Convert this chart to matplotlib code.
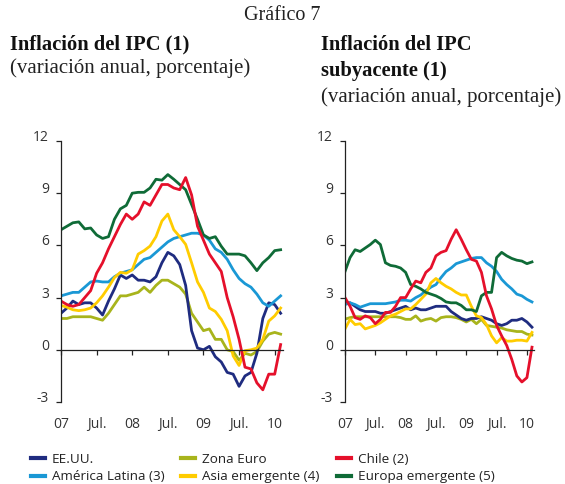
import matplotlib
matplotlib.use("Agg")
import matplotlib.pyplot as plt
import numpy as np

# ---------------- data (monthly, Jan 2007 - Feb 2010) ----------------
tick_labels = ["07", "Jul.", "08", "Jul.", "09", "Jul.", "10"]
series_names = ["EE.UU.", "América Latina (3)", "Zona Euro",
                "Asia emergente (4)", "Chile (2)", "Europa emergente (5)"]

# Headline CPI inflation
ipc_eeuu = [2.1, 2.4, 2.8, 2.6, 2.7, 2.7, 2.4, 2.0, 2.8, 3.5, 4.3, 4.1,
            4.3, 4.0, 4.0, 3.9, 4.2, 5.0, 5.6, 5.4, 4.9, 3.7, 1.1, 0.1,
            0.0, 0.2, -0.4, -0.7, -1.3, -1.4, -2.1, -1.5, -1.3, -0.2, 1.8, 2.7,
            2.6, 2.1]
ipc_zona_euro = [1.8, 1.8, 1.9, 1.9, 1.9, 1.9, 1.8, 1.7, 2.1, 2.6, 3.1, 3.1,
                 3.2, 3.3, 3.6, 3.3, 3.7, 4.0, 4.0, 3.8, 3.6, 3.2, 2.1, 1.6,
                 1.1, 1.2, 0.6, 0.6, 0.0, -0.1, -0.6, -0.2, -0.3, -0.1, 0.5, 0.9,
                 1.0, 0.9]
ipc_chile = [2.8, 2.6, 2.5, 2.6, 3.0, 3.4, 4.4, 5.0, 5.8, 6.5, 7.2, 7.8,
             7.5, 7.8, 8.5, 8.3, 8.9, 9.5, 9.5, 9.3, 9.2, 9.9, 8.9, 7.1,
             6.3, 5.5, 5.0, 4.5, 3.0, 1.9, 0.6, -1.0, -1.1, -1.9, -2.3, -1.4,
             -1.4, 0.3]
ipc_america_latina = [3.1, 3.2, 3.3, 3.3, 3.6, 3.9, 3.95, 3.9, 3.9, 4.2, 4.4, 4.5,
                      4.6, 4.9, 5.2, 5.3, 5.6, 5.9, 6.2, 6.4, 6.5, 6.6, 6.7, 6.7,
                      6.6, 6.3, 5.8, 5.6, 5.2, 4.6, 4.1, 3.8, 3.6, 3.2, 2.7, 2.5,
                      2.8, 3.1]
ipc_asia_emergente = [2.55, 2.45, 2.3, 2.25, 2.3, 2.4, 2.7, 3.1, 3.6, 4.15, 4.45, 4.4,
                      4.6, 5.5, 5.7, 5.96, 6.5, 7.4, 7.8, 6.9, 6.5, 6.06, 5.0, 3.9,
                      3.3, 2.4, 2.2, 1.75, 1.1, -0.35, -0.9, -0.05, 0.0, 0.1, 0.6, 1.65,
                      1.95, 2.4]
ipc_europa_emergente = [6.9, 7.1, 7.3, 7.35, 6.95, 7.0, 6.6, 6.4, 6.5, 7.5, 8.1, 8.3,
                        9.0, 9.05, 9.05, 9.3, 9.8, 9.75, 10.07, 9.8, 9.5, 9.2, 8.35, 7.5,
                        6.6, 6.4, 6.5, 5.95, 5.5, 5.5, 5.5, 5.4, 5.0, 4.55, 5.0, 5.3,
                        5.7, 5.75]

# Core CPI inflation
sub_eeuu = [2.7, 2.7, 2.5, 2.3, 2.2, 2.2, 2.2, 2.1, 2.1, 2.2, 2.3, 2.4,
            2.5, 2.3, 2.4, 2.3, 2.3, 2.4, 2.5, 2.5, 2.5, 2.2, 2.0, 1.8,
            1.7, 1.8, 1.8, 1.9, 1.8, 1.7, 1.5, 1.4, 1.5, 1.7, 1.7, 1.8,
            1.6, 1.3]
sub_zona_euro = [1.76, 1.85, 1.9, 1.9, 1.9, 1.9, 1.9, 1.9, 1.9, 1.9, 1.9, 1.85,
                 1.75, 1.75, 1.95, 1.65, 1.75, 1.8, 1.65, 1.85, 1.9, 1.9, 1.85, 1.75,
                 1.6, 1.75, 1.5, 1.75, 1.4, 1.35, 1.3, 1.25, 1.15, 1.1, 1.05, 1.05,
                 0.9, 0.85]
sub_chile = [3.0, 2.5, 1.85, 1.75, 1.95, 1.85, 1.5, 1.75, 2.15, 2.15, 2.5, 3.0,
             3.0, 3.5, 3.95, 3.85, 4.45, 4.7, 5.4, 5.6, 5.7, 6.35, 6.9, 6.35,
             5.75, 5.2, 5.1, 4.45, 3.1, 2.35, 1.4, 0.8, 0.25, -0.55, -1.5, -1.85,
             -1.6, 0.15]
sub_america_latina = [2.6, 2.7, 2.6, 2.45, 2.55, 2.65, 2.65, 2.65, 2.65, 2.7, 2.75, 2.85,
                      2.85, 2.8, 3.0, 3.15, 3.4, 3.6, 3.75, 4.15, 4.5, 4.7, 4.95, 5.05,
                      5.15, 5.25, 5.3, 5.3, 5.0, 4.8, 4.5, 4.05, 3.75, 3.5, 3.2, 3.1,
                      2.9, 2.75]
sub_asia_emergente = [1.2, 1.75, 1.45, 1.5, 1.2, 1.3, 1.4, 1.55, 1.75, 1.95, 2.05, 2.2,
                      2.35, 2.35, 2.6, 2.9, 3.2, 3.85, 4.1, 3.85, 3.65, 3.5, 3.3, 3.15,
                      3.15, 2.5, 1.95, 1.85, 1.45, 0.8, 0.4, 0.7, 0.5, 0.5, 0.55, 0.55,
                      0.5, 1.0]
sub_europa_emergente = [4.5, 5.3, 5.75, 5.65, 5.85, 6.05, 6.3, 6.05, 5.0, 4.85, 4.8, 4.7,
                        4.45, 3.75, 3.65, 3.5, 3.3, 3.2, 3.1, 2.95, 2.75, 2.7, 2.7, 2.55,
                        2.3, 2.3, 2.2, 3.1, 3.3, 3.3, 5.3, 5.6, 5.4, 5.25, 5.15, 5.1,
                        4.95, 5.05]

colors = {"EE.UU.": "#1f2c80", "América Latina (3)": "#1a98d5", "Zona Euro": "#a8b41c",
          "Asia emergente (4)": "#ffcc00", "Chile (2)": "#e5102b", "Europa emergente (5)": "#0f6b37"}

ipc = {"EE.UU.": ipc_eeuu, "América Latina (3)": ipc_america_latina, "Zona Euro": ipc_zona_euro,
       "Asia emergente (4)": ipc_asia_emergente, "Chile (2)": ipc_chile,
       "Europa emergente (5)": ipc_europa_emergente}
sub = {"EE.UU.": sub_eeuu, "América Latina (3)": sub_america_latina, "Zona Euro": sub_zona_euro,
       "Asia emergente (4)": sub_asia_emergente, "Chile (2)": sub_chile,
       "Europa emergente (5)": sub_europa_emergente}

draw_order = ["Zona Euro", "EE.UU.", "América Latina (3)", "Asia emergente (4)",
              "Europa emergente (5)", "Chile (2)"]

plt.rcParams["font.family"] = ["Open Sans", "DejaVu Sans"]
plt.rcParams["axes.unicode_minus"] = False

W, H = 565, 484
fig = plt.figure(figsize=(W / 100, H / 100), dpi=100)

def fx(px):
    return px / W

def fy(py):
    return 1 - py / H

ytop, ybot = 141, 402
ax1 = fig.add_axes([fx(61), fy(ybot), fx(222), (ybot - ytop) / H])
ax2 = fig.add_axes([fx(345), fy(ybot), fx(189), (ybot - ytop) / H])

handles = {}
for ax, data in ((ax1, ipc), (ax2, sub)):
    for name in draw_order:
        vals = data[name]
        x = np.arange(len(vals))
        (ln,) = ax.plot(x, vals, color=colors[name], lw=2.0, solid_joinstyle="round")
        handles[name] = ln
    ax.set_xlim(0, 37.4)
    ax.set_ylim(-3, 12)
    ax.set_yticks([-3, 0, 3, 6, 9, 12])
    ax.set_xticks(np.arange(0, 37, 6))
    ax.set_xticklabels(tick_labels)
    for s in ("top", "right"):
        ax.spines[s].set_visible(False)
    ax.spines["bottom"].set_position(("data", 0))
    ax.spines["bottom"].set_color("#222222")
    ax.spines["left"].set_color("#222222")
    ax.spines["bottom"].set_linewidth(0.9)
    ax.spines["left"].set_linewidth(0.9)
    ax.tick_params(axis="y", direction="out", length=3.6, width=0.9, pad=5,
                   labelsize=10, colors="#222222", labelcolor="#333333")
    ax.tick_params(axis="x", direction="out", length=3.6, width=0.9, pad=45,
                   labelsize=10, colors="#222222", labelcolor="#333333")
    for lab in ax.get_yticklabels():
        lab.set_verticalalignment("baseline")
    ax.patch.set_alpha(0)

serif = ["Liberation Serif", "DejaVu Serif"]
fig.text(fx(282), fy(15), "Gráfico 7", ha="center", va="center", family=serif, fontsize=14.5, color="#222222")
fig.text(fx(10), fy(44), "Inflación del IPC (1)", ha="left", va="center", family=serif,
         fontsize=14.8, weight="bold", color="#111111")
fig.text(fx(10), fy(68), "(variación anual, porcentaje)", ha="left", va="center", family=serif,
         fontsize=15, color="#222222")
fig.text(fx(321), fy(45), "Inflación del IPC", ha="left", va="center", family=serif,
         fontsize=14.8, weight="bold", color="#111111")
fig.text(fx(321), fy(71), "subyacente (1)", ha="left", va="center", family=serif,
         fontsize=14.8, weight="bold", color="#111111")
fig.text(fx(321), fy(97), "(variación anual, porcentaje)", ha="left", va="center", family=serif,
         fontsize=15, color="#222222")

leg = fig.legend([handles[n] for n in series_names], series_names, ncol=3,
                 loc="upper left", bbox_to_anchor=(fx(31), fy(453)), frameon=False,
                 fontsize=9.7, handlelength=1.04, handletextpad=0.52, columnspacing=1.25,
                 labelspacing=0.33, borderaxespad=0, borderpad=0)
for t in leg.get_texts():
    t.set_color("#222222")
for l in leg.get_lines():
    l.set_linewidth(3.0)

fig.savefig("out.png", dpi=100)
